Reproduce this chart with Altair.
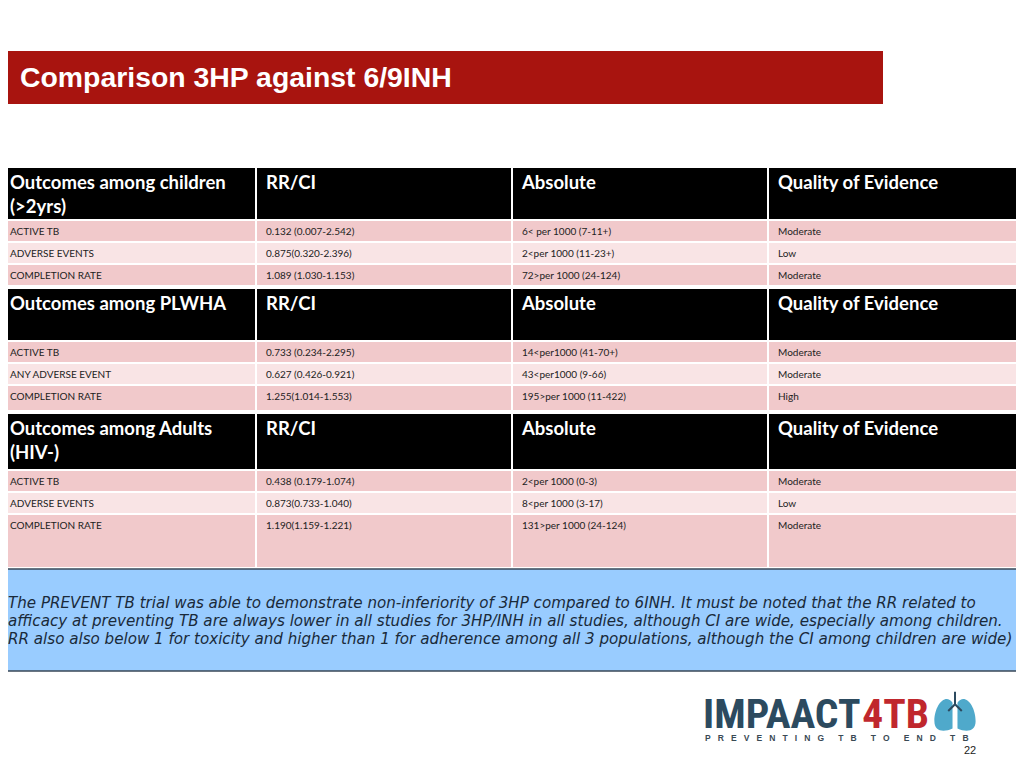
import altair as alt
import pandas as pd

# ---------------- data ----------------
title = "Comparison 3HP against 6/9INH"
section_labels = ["Outcomes among children\n(>2yrs)", "Outcomes among PLWHA", "Outcomes among Adults\n(HIV-)"]
column_headers = ["RR/CI", "Absolute", "Quality of Evidence"]
outcomes = [
    ["ACTIVE TB", "ADVERSE EVENTS", "COMPLETION RATE"],
    ["ACTIVE TB", "ANY ADVERSE EVENT", "COMPLETION RATE"],
    ["ACTIVE TB", "ADVERSE EVENTS", "COMPLETION RATE"],
]
rr_ci = [
    ["0.132 (0.007-2.542)", "0.875(0.320-2.396)", "1.089 (1.030-1.153)"],
    ["0.733 (0.234-2.295)", "0.627 (0.426-0.921)", "1.255(1.014-1.553)"],
    ["0.438 (0.179-1.074)", "0.873(0.733-1.040)", "1.190(1.159-1.221)"],
]
absolute = [
    ["6< per 1000 (7-11+)", "2<per 1000 (11-23+)", "72>per 1000 (24-124)"],
    ["14<per1000 (41-70+)", "43<per1000 (9-66)", "195>per 1000 (11-422)"],
    ["2<per 1000 (0-3)", "8<per 1000 (3-17)", "131>per 1000 (24-124)"],
]
quality = [
    ["Moderate", "Low", "Moderate"],
    ["Moderate", "Moderate", "High"],
    ["Moderate", "Low", "Moderate"],
]
note_lines = [
    "The PREVENT TB trial was able to demonstrate non-inferiority of 3HP compared to 6INH. It must be noted that the RR related to",
    "afficacy at preventing TB are always lower in all studies for 3HP/INH in all studies, although CI are wide, especially among children.",
    "RR also also below 1 for toxicity and higher than 1 for adherence among all 3 populations, although the CI among children are wide)",
]
logo_main = "IMPAACT"
logo_accent = "4TB"
logo_tagline = "PREVENTING TB TO END TB"
page_number = "22"

# ---------------- layout (slide pixel grid) ----------------
W, H = 1008, 748
col_edges = [0, 256, 512, 768, 1024]
section_tops = [167, 288, 413]
header_heights = [53, 53, 57]
row_heights = [[22, 22, 22], [22, 22, 26], [22, 22, 54]]

PINK = "#F1C9CB"
LIGHT = "#F9E4E5"

rects, head_txt, cell_txt = [], [], []
for s in range(3):
    top = section_tops[s]
    hh = header_heights[s]
    headers = [section_labels[s]] + column_headers
    for c in range(4):
        rects.append(dict(x=col_edges[c], x2=col_edges[c + 1], y=top, y2=top + hh, fill="#000000"))
        head_txt.append(dict(x=col_edges[c] + 10, y=top + 7, text=headers[c]))
    y0 = top + hh
    cols = [outcomes[s], rr_ci[s], absolute[s], quality[s]]
    for r in range(3):
        rh = row_heights[s][r]
        fill = PINK if r != 1 else LIGHT
        for c in range(4):
            rects.append(dict(x=col_edges[c], x2=col_edges[c + 1], y=y0, y2=y0 + rh, fill=fill))
            cell_txt.append(dict(x=col_edges[c] + 10, y=y0 + 12, text=cols[c][r]))
        y0 += rh

xs = alt.Scale(domain=[8, 8 + W], nice=False, zero=False)
ys = alt.Scale(domain=[8, 8 + H], nice=False, zero=False, reverse=True)
X = alt.X("x:Q", scale=xs, axis=None)
X2 = alt.X2("x2:Q")
Y = alt.Y("y:Q", scale=ys, axis=None)
Y2 = alt.Y2("y2:Q")

table_rects = alt.Chart(pd.DataFrame(rects)).mark_rect(stroke="white", strokeWidth=2).encode(
    x=X, x2=X2, y=Y, y2=Y2, color=alt.Color("fill:N", scale=None)
)
header_text = alt.Chart(pd.DataFrame(head_txt)).mark_text(
    align="left", baseline="top", lineBreak="\n", lineHeight=24,
    font="Lato", fontWeight="bold", fontSize=18.5, color="white"
).encode(x=X, y=Y, text="text:N")
cell_text = alt.Chart(pd.DataFrame(cell_txt)).mark_text(
    align="left", baseline="middle", font="Lato", fontSize=10, color="#222222"
).encode(x=X, y=Y, text="text:N")

# title banner
banner = alt.Chart(pd.DataFrame([dict(x=0, x2=883, y=51, y2=104)])).mark_rect(color="#A8140F").encode(
    x=X, x2=X2, y=Y, y2=Y2)
banner_text = alt.Chart(pd.DataFrame([dict(x=20, y=78, text=title)])).mark_text(
    align="left", baseline="middle", font="Liberation Sans", fontWeight="bold", fontSize=28.4, color="white"
).encode(x=X, y=Y, text="text:N")

# note box
note_box = alt.Chart(pd.DataFrame([dict(x=0, x2=1023, y=569, y2=671)])).mark_rect(
    color="#99CCFF", stroke="#3A4858", strokeWidth=1.5).encode(x=X, x2=X2, y=Y, y2=Y2)
note_text = alt.Chart(pd.DataFrame([dict(x=8, y=603 + 18 * i, text=t) for i, t in enumerate(note_lines)])).mark_text(
    align="left", baseline="middle", font="DejaVu Sans", fontStyle="italic", fontSize=15.12, color="#1A2A3A"
).encode(x=X, y=Y, text="text:N")

# logo
logo_font = "'Roboto Condensed', Roboto, sans-serif"
logo1 = alt.Chart(pd.DataFrame([dict(x=703, y=728, text=logo_main)])).mark_text(
    align="left", baseline="alphabetic", font=logo_font, fontWeight="bold", fontSize=41.5, color="#2C4A5F"
).encode(x=X, y=Y, text="text:N")
logo2 = alt.Chart(pd.DataFrame([dict(x=929, y=728, text=logo_accent)])).mark_text(
    align="right", baseline="alphabetic", font=logo_font, fontWeight="bold", fontSize=41.5, color="#C0272D"
).encode(x=X, y=Y, text="text:N")
lung_path = ("M-0.12,-0.45 C-0.45,-0.95 -1,-0.35 -1,0.45 C-1,0.95 -0.55,1 -0.12,0.8 Z "
             "M0.12,-0.45 C0.45,-0.95 1,-0.35 1,0.45 C1,0.95 0.55,1 0.12,0.8 Z")
lungs = alt.Chart(pd.DataFrame([dict(x=955, y=712)])).mark_point(
    shape=lung_path, size=1700, filled=True, color="#4FA9CB", opacity=1).encode(x=X, y=Y)
trachea_path = "M0,-1 L0,-0.35 L-0.35,0 M0,-0.35 L0.35,0"
trachea = alt.Chart(pd.DataFrame([dict(x=955, y=711)])).mark_point(
    shape=trachea_path, size=1500, filled=False, color="#2C4A5F", strokeWidth=2, opacity=1).encode(x=X, y=Y)
NB = "\u00A0"
spaced_tagline = (NB * 6).join((NB * 3).join(word) for word in logo_tagline.split(" "))
tagline = alt.Chart(pd.DataFrame([dict(x=705, y=738, text=spaced_tagline)])).mark_text(
    align="left", baseline="middle", font="Liberation Sans", fontWeight="bold", fontSize=8.5, color="#3A4A55"
).encode(x=X, y=Y, text="text:N")
page = alt.Chart(pd.DataFrame([dict(x=970, y=751, text=page_number)])).mark_text(
    align="center", baseline="middle", font="Liberation Sans", fontSize=11, color="#222222"
).encode(x=X, y=Y, text="text:N")

chart = alt.layer(
    banner, banner_text, table_rects, header_text, cell_text, note_box, note_text,
    logo1, logo2, lungs, trachea, tagline, page
).properties(
    width=W, height=H, autosize=alt.AutoSizeParams(type="none"), padding=0, background="white"
).configure_view(stroke=None)

chart.save("out.html", embed_options={"renderer": "svg", "actions": False})
